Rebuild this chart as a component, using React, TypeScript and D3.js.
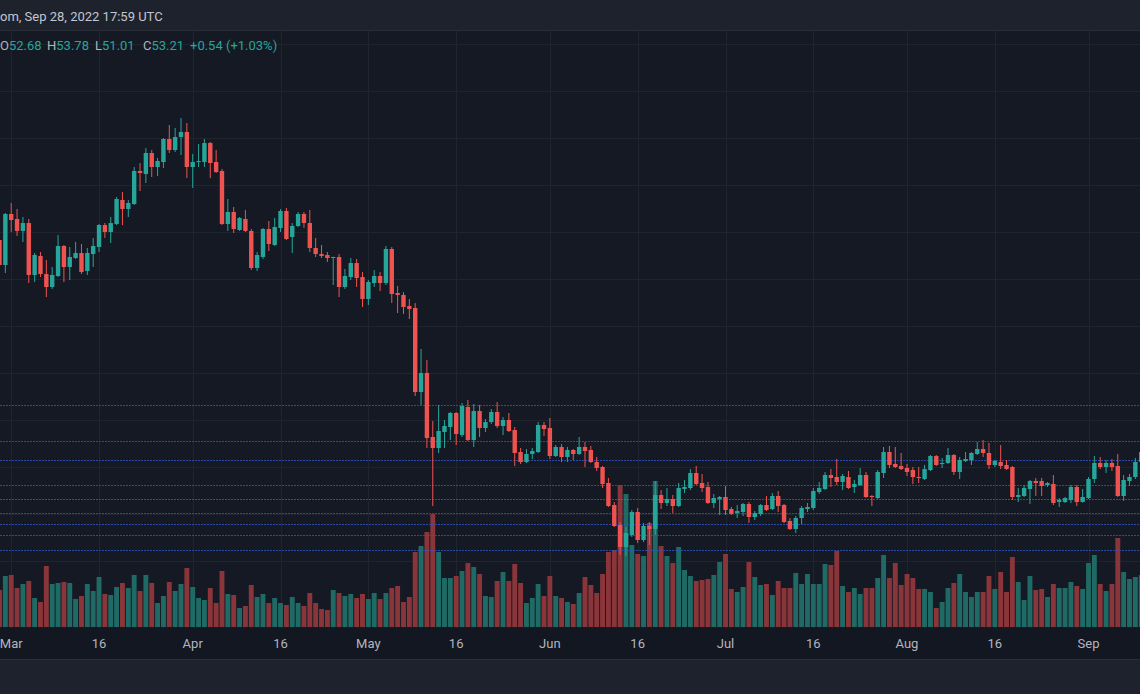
import React from "react";
import * as d3 from "d3";

// daily candles, first one is 2022-02-27
const startDay = "2022-02-27";

const opens = [
  108.3, 102.98, 113.83, 112.77, 110.22, 111.91, 100.85, 104.89, 101.06, 98.3,
  100.64, 107.02, 102.55, 104.47, 105.53, 101.7, 105.32, 106.81, 111.49, 110.0,
  111.7, 116.81, 114.9, 115.96, 122.98, 122.34, 126.81, 123.83, 124.89, 129.79,
  127.45, 130.21, 131.27, 123.83, 124.89, 124.89, 128.93, 124.89, 122.98, 111.7,
  114.26, 110.43, 112.77, 110.22, 102.34, 104.68, 110.64, 107.23, 110.85, 114.47,
  108.94, 111.28, 113.83, 111.91, 106.6, 105.32, 105.11, 104.47, 104.68, 98.3,
  100.42, 103.4, 100.42, 95.75, 99.15, 100.64, 99.15, 106.39, 97.02, 96.6,
  94.26, 93.83, 75.95, 80.0, 66.38, 64.04, 67.45, 68.51, 71.49, 66.81,
  72.77, 65.74, 71.91, 68.3, 69.57, 71.7, 68.72, 70.0, 67.87, 63.19,
  61.06, 62.77, 63.19, 68.94, 68.3, 62.34, 64.26, 62.13, 63.62, 62.77,
  64.26, 63.62, 61.06, 60.0, 56.6, 51.91, 47.66, 42.98, 45.53, 50.43,
  44.47, 47.45, 46.81, 54.04, 52.34, 53.19, 51.7, 55.32, 55.53, 58.72,
  56.6, 55.74, 52.34, 53.19, 53.62, 51.06, 50.21, 50.43, 52.13, 49.36,
  50.0, 51.91, 51.06, 53.83, 51.91, 48.51, 46.81, 49.15, 51.06, 51.28,
  54.68, 55.32, 58.3, 57.87, 56.81, 57.87, 55.74, 56.17, 58.3, 53.83,
  53.4, 58.72, 63.19, 60.64, 60.21, 59.79, 59.36, 57.87, 57.45, 59.36,
  62.34, 60.64, 60.85, 62.55, 58.94, 61.28, 61.49, 62.77, 63.83, 62.98,
  60.43, 61.06, 60.43, 60.0, 53.62, 53.83, 55.32, 57.02, 57.02, 56.17,
  56.38, 52.55, 52.55, 52.98, 55.74, 52.55, 53.4, 57.45, 60.85, 60.0,
  60.85, 60.21, 53.83, 57.02, 57.87, 61.06,
];

const highs = [
  109.15, 114.04, 116.17, 114.9, 113.19, 112.77, 105.53, 105.74, 104.04, 102.55,
  109.37, 107.23, 106.81, 107.87, 107.45, 106.6, 108.73, 111.7, 111.91, 113.19,
  117.45, 118.51, 116.81, 123.83, 124.68, 127.87, 127.45, 125.75, 130.0, 132.77,
  132.13, 134.26, 133.19, 126.6, 128.72, 129.79, 129.15, 127.45, 123.4, 117.02,
  115.32, 113.19, 114.68, 110.64, 105.74, 110.85, 112.34, 112.98, 114.9, 115.11,
  111.91, 114.26, 114.26, 114.68, 108.73, 107.23, 105.74, 104.75, 105.32, 102.13,
  104.47, 104.26, 101.48, 99.79, 101.91, 101.48, 107.02, 106.81, 98.51, 97.23,
  95.75, 94.89, 85.11, 82.77, 69.79, 73.2, 70.0, 71.7, 71.7, 73.62,
  74.26, 73.4, 73.2, 70.21, 72.34, 73.83, 70.64, 71.49, 68.51, 64.04,
  63.83, 64.04, 69.57, 69.57, 70.43, 64.68, 64.89, 64.26, 63.83, 66.38,
  65.32, 64.47, 62.13, 60.21, 57.66, 52.55, 48.3, 47.23, 50.85, 51.28,
  48.09, 48.3, 57.02, 55.11, 55.53, 54.04, 56.6, 57.23, 59.57, 60.21,
  58.51, 56.81, 54.26, 53.83, 55.96, 51.49, 51.91, 52.34, 52.55, 50.64,
  52.13, 53.83, 54.47, 54.89, 52.13, 49.15, 49.57, 51.7, 52.34, 55.53,
  56.81, 58.94, 59.57, 61.7, 58.51, 59.15, 57.23, 59.79, 58.94, 54.04,
  59.36, 64.26, 64.47, 64.26, 62.98, 60.64, 60.0, 60.0, 60.43, 62.55,
  62.55, 61.91, 64.04, 62.77, 62.13, 63.19, 63.19, 65.32, 65.74, 65.11,
  61.49, 64.68, 61.49, 60.21, 55.53, 56.17, 57.23, 57.66, 57.66, 56.81,
  58.3, 53.4, 53.62, 56.17, 56.17, 55.32, 57.87, 62.34, 62.13, 61.49,
  61.7, 62.77, 58.3, 58.51, 61.91, 64.04,
];

const lows = [
  102.34, 101.27, 110.0, 109.15, 107.87, 99.15, 99.36, 100.42, 96.17, 97.88,
  100.42, 99.36, 99.79, 104.26, 101.06, 100.85, 102.55, 105.74, 108.73, 107.66,
  111.49, 111.49, 113.19, 115.74, 118.73, 120.42, 121.7, 121.91, 123.62, 126.81,
  127.02, 126.39, 121.49, 119.36, 123.83, 123.83, 121.49, 122.55, 111.49, 110.22,
  109.79, 110.22, 110.0, 101.91, 101.7, 104.26, 105.96, 107.02, 110.0, 108.3,
  105.53, 111.06, 110.85, 105.74, 104.68, 104.47, 103.62, 98.73, 96.17, 97.88,
  99.79, 98.3, 94.04, 94.47, 98.3, 97.45, 98.73, 94.89, 92.76, 92.55,
  91.49, 75.1, 73.2, 64.04, 51.7, 62.98, 64.04, 65.74, 64.68, 66.38,
  65.53, 64.26, 66.38, 67.45, 69.15, 68.3, 66.81, 67.45, 60.21, 60.64,
  60.85, 61.7, 62.98, 66.6, 61.7, 62.13, 61.06, 61.06, 61.49, 62.55,
  60.0, 60.85, 59.15, 55.53, 51.49, 47.23, 41.28, 41.06, 45.11, 43.83,
  44.04, 43.4, 45.53, 51.06, 51.7, 50.21, 51.49, 54.47, 55.11, 56.17,
  54.68, 52.13, 51.28, 49.79, 49.79, 49.79, 49.15, 49.57, 48.09, 48.72,
  49.57, 50.64, 50.85, 50.43, 48.09, 46.6, 45.96, 47.87, 50.43, 50.85,
  54.26, 55.11, 55.74, 56.17, 55.11, 55.32, 54.47, 55.96, 53.4, 51.7,
  53.19, 57.66, 59.79, 59.79, 59.36, 58.09, 56.38, 56.6, 57.23, 59.15,
  60.21, 59.79, 60.64, 58.3, 57.45, 61.06, 60.43, 62.55, 62.13, 59.57,
  60.0, 59.57, 59.36, 52.98, 52.55, 53.62, 52.13, 53.83, 53.83, 55.74,
  51.91, 51.49, 52.34, 52.34, 51.7, 52.45, 53.19, 56.6, 59.57, 58.72,
  59.15, 53.62, 52.77, 55.96, 57.45, 60.43,
];

const closes = [
  102.98, 113.83, 112.55, 110.22, 111.91, 100.85, 105.11, 101.06, 98.3, 100.85,
  107.02, 102.55, 104.68, 105.53, 101.48, 105.53, 107.02, 111.49, 110.0, 111.91,
  117.02, 114.9, 116.17, 122.98, 122.55, 126.81, 123.83, 125.11, 129.79, 127.45,
  130.21, 131.27, 123.83, 124.89, 125.11, 128.93, 124.68, 122.77, 111.7, 114.26,
  110.64, 112.98, 110.22, 102.34, 105.11, 110.64, 107.45, 111.06, 114.47, 108.51,
  111.28, 113.83, 111.91, 106.6, 105.32, 104.89, 104.47, 104.68, 98.3, 100.64,
  103.4, 100.21, 95.75, 99.36, 100.64, 99.15, 106.39, 96.81, 96.6, 94.04,
  93.62, 75.95, 80.0, 66.17, 64.04, 67.66, 68.72, 71.49, 67.02, 72.98,
  65.74, 71.91, 68.3, 69.57, 71.7, 68.72, 70.0, 67.66, 62.98, 61.06,
  62.77, 63.4, 68.94, 68.09, 62.34, 64.26, 62.13, 63.62, 62.77, 64.26,
  63.4, 61.06, 59.79, 56.38, 51.7, 47.45, 42.98, 45.96, 50.43, 44.47,
  47.45, 46.81, 54.04, 52.34, 53.19, 51.7, 55.53, 55.74, 58.72, 56.38,
  55.53, 52.34, 53.4, 53.62, 50.85, 50.0, 50.64, 52.13, 49.36, 50.21,
  51.91, 50.85, 53.83, 51.7, 48.3, 46.81, 49.15, 51.28, 51.49, 54.89,
  55.53, 58.3, 57.66, 56.81, 58.09, 55.53, 56.38, 58.3, 53.62, 53.62,
  58.94, 63.19, 60.43, 60.0, 59.57, 58.94, 57.87, 57.66, 59.57, 62.34,
  60.43, 60.85, 62.55, 58.94, 61.49, 61.7, 62.98, 63.83, 62.98, 60.43,
  61.28, 60.21, 59.57, 53.62, 54.04, 55.53, 57.02, 56.6, 55.96, 56.6,
  52.34, 52.98, 53.4, 55.74, 52.55, 53.62, 57.45, 60.85, 60.0, 60.85,
  60.0, 53.83, 57.23, 57.87, 61.06, 63.19,
];

// volume, thousands
const volumes = [
  740, 1020, 1040, 780, 860, 920, 580, 500, 1220, 860,
  880, 900, 880, 560, 620, 860, 720, 1000, 660, 640,
  800, 880, 780, 1040, 720, 1040, 880, 480, 620, 900,
  720, 860, 1180, 800, 580, 540, 780, 480, 1120, 660,
  640, 380, 420, 840, 600, 660, 480, 580, 480, 440,
  600, 480, 420, 680, 480, 360, 340, 740, 680, 620,
  660, 580, 660, 560, 680, 560, 680, 780, 820, 500,
  600, 1500, 1620, 1900, 2260, 1500, 980, 980, 1020, 1120,
  1280, 1200, 1060, 620, 600, 920, 1100, 920, 1260, 880,
  480, 580, 860, 620, 1020, 620, 580, 500, 460, 680,
  1000, 840, 680, 1060, 1500, 1540, 2840, 2660, 1640, 1460,
  1420, 2080, 2920, 1620, 1420, 1280, 1600, 1140, 1020, 920,
  940, 960, 1040, 1300, 1460, 760, 700, 800, 1300, 1000,
  840, 860, 640, 920, 780, 780, 1080, 860, 1060, 860,
  860, 1260, 1240, 1520, 820, 700, 780, 660, 780, 780,
  980, 1440, 980, 1280, 840, 1060, 980, 760, 760, 700,
  380, 500, 780, 880, 1060, 700, 600, 700, 700, 1020,
  760, 1100, 700, 1400, 900, 540, 1020, 740, 760, 600,
  860, 780, 780, 900, 820, 760, 1280, 1440, 860, 720,
  860, 1780, 1100, 960, 1000, 1040,
];

const priceLines = [73.19, 65.53, 61.49, 56.17, 50.21, 47.87, 45.53, 42.34];
const lastPrice = 53.21;
const gridPrices = [150, 140, 130, 120, 110, 100, 90, 80, 70, 60, 50, 40];

const tickDays = [
  "2022-03-01", "2022-03-16", "2022-04-01", "2022-04-16", "2022-05-01",
  "2022-05-16", "2022-06-01", "2022-06-16", "2022-07-01", "2022-07-16",
  "2022-08-01", "2022-08-16", "2022-09-01",
];
const tickLabels = ["Mar", "16", "Apr", "16", "May", "16", "Jun", "16", "Jul", "16", "Aug", "16", "Sep"];

const stamp = "om, Sep 28, 2022 17:59 UTC";
const legendKeys = ["O", "H", "L", "C"];
const legendValues = ["52.68", "53.78", "51.01", "53.21"];
const legendChange = "+0.54 (+1.03%)";

const UP = "#26a69a";
const DOWN = "#ef5350";
const VOL_UP = "#1f6a65";
const VOL_DOWN = "#8a3539";
const FONT = "Roboto, 'Noto Sans', sans-serif";

export default function App() {
  const parse = d3.utcParse("%Y-%m-%d");
  const t0 = parse(startDay) as Date;

  const x = d3
    .scaleUtc()
    .domain([t0, d3.utcDay.offset(t0, 195)])
    .range([-0.5, 1141.2]);
  const y = d3.scaleLinear().domain([40, 130]).range([561, 138]);
  const yVol = d3.scaleLinear().domain([0, 3000]).range([627, 477]);

  const candles = opens.map((o, i) => ({
    t: d3.utcDay.offset(t0, i),
    o,
    h: highs[i],
    l: lows[i],
    c: closes[i],
    v: volumes[i],
    up: closes[i] >= o,
  }));

  const bodyW = 4.4;
  const volW = 4.9;
  const legendX = [0, 47, 95, 143];
  const crisp = (v: number) => Math.round(v) + 0.5;

  return (
    <div style={{ position: "absolute", left: 0, top: 0 }}>
      <svg width={1140} height={694} style={{ display: "block" }}>
        <rect x={0} y={0} width={1140} height={694} fill="#151924" />
        <rect x={0} y={0} width={1140} height={30} fill="#1e222d" />
        <line x1={0} x2={1140} y1={30.5} y2={30.5} stroke="#2a2e39" />
        <rect x={0} y={628} width={1140} height={31} fill="#131722" />
        <rect x={0} y={659} width={1140} height={35} fill="#1e222d" />
        <line x1={0} x2={1140} y1={659.5} y2={659.5} stroke="#2a2e39" />

        {/* grid */}
        <g stroke="#20242f" strokeWidth={1}>
          {gridPrices.map((p) => (
            <line key={"h" + p} x1={0} x2={1140} y1={crisp(y(p))} y2={crisp(y(p))} />
          ))}
          {tickDays.map((d) => {
            const gx = crisp(x(parse(d) as Date));
            return <line key={"v" + d} x1={gx} x2={gx} y1={31} y2={628} />;
          })}
        </g>

        {/* volume */}
        <g>
          {candles.map((d, i) => (
            <rect
              key={"vol" + i}
              x={x(d.t) - volW / 2}
              y={yVol(d.v)}
              width={volW}
              height={yVol(0) - yVol(d.v)}
              fill={d.up ? VOL_UP : VOL_DOWN}
            />
          ))}
        </g>

        {/* price lines */}
        <g strokeWidth={1} strokeDasharray="2 1">
          {priceLines.map((p) => (
            <line
              key={"pl" + p}
              x1={0}
              x2={1140}
              y1={crisp(y(p))}
              y2={crisp(y(p))}
              stroke="#2d55c4"
              strokeOpacity={0.8}
            />
          ))}
          <line
            x1={0}
            x2={1140}
            y1={crisp(y(lastPrice))}
            y2={crisp(y(lastPrice))}
            stroke={UP}
            strokeOpacity={0.55}
          />
        </g>

        {/* candles */}
        <g>
          {candles.map((d, i) => {
            const cx = x(d.t);
            const top = y(Math.max(d.o, d.c));
            const bot = y(Math.min(d.o, d.c));
            const col = d.up ? UP : DOWN;
            return (
              <g key={"c" + i}>
                <line x1={cx} x2={cx} y1={y(d.h)} y2={y(d.l)} stroke={col} strokeWidth={1} />
                <rect x={cx - bodyW / 2} y={top} width={bodyW} height={Math.max(1, bot - top)} fill={col} />
              </g>
            );
          })}
        </g>

        {/* time axis */}
        <g fontFamily={FONT} fontSize={13} fill="#b2b5be" textAnchor="middle">
          {tickDays.map((d, i) => (
            <text key={"t" + d} x={Math.max(11, x(parse(d) as Date))} y={648}>
              {tickLabels[i]}
            </text>
          ))}
        </g>

        {/* header */}
        <text x={0} y={21} fontFamily={FONT} fontSize={13} fill="#c3c6ce">
          {stamp}
        </text>
        <g fontFamily={FONT} fontSize={13}>
          {legendKeys.map((k, i) => (
            <text key={k} x={legendX[i]} y={50} fill="#b2b5be">
              {k}
              <tspan fill={UP}>{legendValues[i]}</tspan>
            </text>
          ))}
          <text x={190} y={50} fill={UP}>
            {legendChange}
          </text>
        </g>
      </svg>
    </div>
  );
}
